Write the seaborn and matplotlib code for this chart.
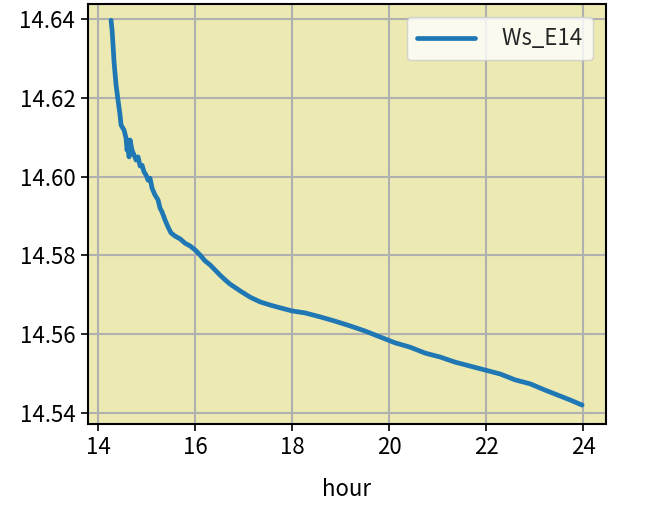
import matplotlib
matplotlib.use("Agg")
import matplotlib.pyplot as plt
import seaborn as sns
import pandas as pd

hours = [14.268, 14.289, 14.309, 14.330, 14.371, 14.412, 14.454, 14.474, 14.536, 14.577,
         14.598, 14.619, 14.639, 14.660, 14.701, 14.742, 14.784, 14.825, 14.866, 14.907,
         14.948, 14.990, 15.031, 15.072, 15.113, 15.175, 15.237, 15.278, 15.320, 15.381,
         15.443, 15.505, 15.588, 15.691, 15.794, 15.897, 16.000, 16.103, 16.206, 16.309,
         16.412, 16.515, 16.619, 16.722, 16.928, 17.134, 17.340, 17.546, 17.753, 18.000,
         18.268, 18.577, 18.887, 19.196, 19.505, 19.814, 20.124, 20.433, 20.742, 21.052,
         21.361, 21.670, 21.979, 22.289, 22.598, 22.907, 23.216, 23.526, 23.732, 23.979]
ws_e14 = [14.6397, 14.6372, 14.6334, 14.6291, 14.6233, 14.6194, 14.6156, 14.6131, 14.6118, 14.6098,
          14.6067, 14.6088, 14.6050, 14.6093, 14.6067, 14.6055, 14.6042, 14.6050, 14.6027, 14.6029,
          14.6012, 14.6004, 14.5991, 14.5996, 14.5971, 14.5953, 14.5941, 14.5920, 14.5910, 14.5890,
          14.5872, 14.5857, 14.5849, 14.5842, 14.5831, 14.5824, 14.5814, 14.5801, 14.5786, 14.5776,
          14.5763, 14.5750, 14.5738, 14.5727, 14.5710, 14.5694, 14.5682, 14.5674, 14.5667, 14.5659,
          14.5654, 14.5644, 14.5633, 14.5621, 14.5608, 14.5593, 14.5578, 14.5567, 14.5552, 14.5542,
          14.5529, 14.5519, 14.5509, 14.5499, 14.5484, 14.5474, 14.5458, 14.5443, 14.5433, 14.5420]
series_label = "  Ws_E14"
x_label = "hour"
x_ticks = [14, 16, 18, 20, 22, 24]
y_ticks = [14.54, 14.56, 14.58, 14.60, 14.62, 14.64]

sns.set_style("ticks")
plt.rcParams["font.family"] = ["Noto Sans CJK SC", "DejaVu Sans"]

df = pd.DataFrame({"hour": hours, "value": ws_e14})

fig = plt.figure(figsize=(6.46, 5.09), dpi=100)
ax = fig.add_axes([0.136, 0.167, 0.802, 0.825])
ax.set_facecolor("#ECE9B3")
sns.lineplot(data=df, x="hour", y="value", ax=ax, color="#1f77b4", linewidth=3.4,
             label=series_label)
ax.grid(True, color="#b0b0b0", linewidth=1.5)
ax.set_axisbelow(True)
ax.set_xticks(x_ticks)
ax.set_yticks(y_ticks)
ax.set_xlim(13.79, 24.47)
ax.set_ylim(14.5372, 14.6438)
ax.set_xlabel(x_label, fontsize=16, color="black", labelpad=13)
ax.set_ylabel("")
ax.tick_params(labelsize=16, length=5, width=1.2, colors="black", pad=4)
for s in ax.spines.values():
    s.set_visible(True)
    s.set_color("black")
    s.set_linewidth(1.5)
leg = ax.legend(loc="upper right", fontsize=16, handlelength=2.6,
                borderaxespad=0.6, borderpad=0.45)
fig.savefig("out.png", dpi=100)
